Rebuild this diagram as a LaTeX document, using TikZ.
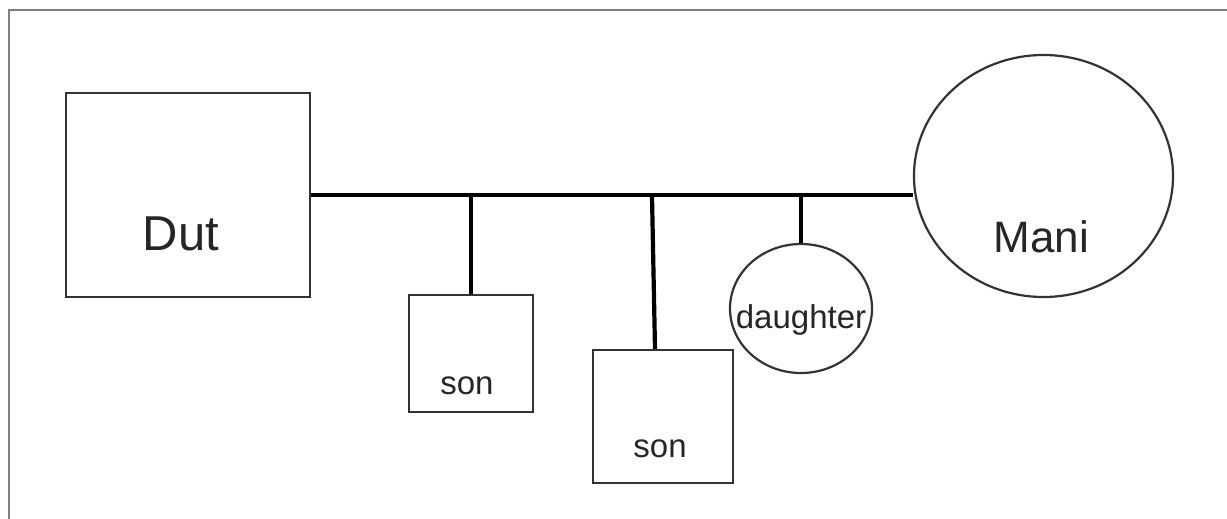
\documentclass[tikz,border=0pt]{standalone}
\usepackage{fontspec}
\setmainfont{Liberation Sans}
\usetikzlibrary{shapes.geometric}
\begin{document}
\begin{tikzpicture}[x=0.5pt,y=-0.5pt,
  figbase/.style={draw=black!80,line width=1.1pt,fill=white,inner sep=0pt},
  boxnode/.style={figbase,rectangle},
  ovalnode/.style={figbase,ellipse},
  bigtext/.style={font=\fontsize{22}{26}\selectfont,text=black!85},
  dutfont/.style={font=\fontsize{24.5}{28}\selectfont,text=black!85},
  smalltext/.style={font=\fontsize{16.5}{19}\selectfont,text=black!85},
  link/.style={draw=black,line width=2.1pt},
  frameline/.style={draw=black!50,line width=0.6pt}]
\useasboundingbox (0,0) rectangle (1227,519);
\draw[frameline] (9,519) -- (9,10) -- (1227,10);

\node[boxnode,minimum width=122pt,minimum height=102pt,
  label={[dutfont,xshift=-3.5pt,yshift=-19.5pt]center:Dut}] (dut) at (188,195) {};
\node[ovalnode,minimum width=129.5pt,minimum height=121pt,
  label={[bigtext,xshift=-1pt,yshift=-30.5pt]center:Mani}] (mani) at (1043.5,176) {};
\node[boxnode,minimum width=62pt,minimum height=58.5pt,
  label={[smalltext,xshift=-2pt,yshift=-16pt]center:son}] (son1) at (471,353.5) {};
\node[boxnode,minimum width=70pt,minimum height=66.5pt,
  label={[smalltext,xshift=-1.5pt,yshift=-16pt]center:son}] (son2) at (663,416.5) {};
\node[ovalnode,minimum width=71pt,minimum height=64.5pt,
  label={[smalltext,yshift=-5.5pt]center:daughter}] (dau) at (801,308.5) {};

\coordinate (j2) at (652,196);
\draw[link] (dut.east) -- (mani.west |- dut.east);
\draw[link] (son1.north) -- (son1.north |- dut.east);
\draw[link] (j2) -- ([xshift=-4pt]son2.north);
\draw[link] (dau.north) -- (dau.north |- dut.east);
\end{tikzpicture}
\end{document}
